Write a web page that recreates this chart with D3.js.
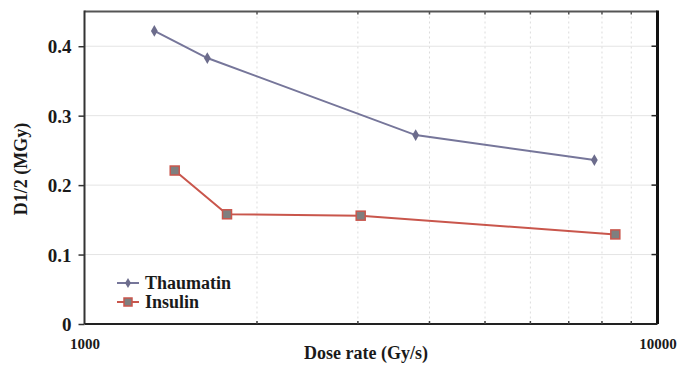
<!DOCTYPE html>
<html>
<head>
<meta charset="utf-8">
<script src="https://cdn.jsdelivr.net/npm/d3@7"></script>
<style>
  body { margin: 0; background: #fff; }
  text { font-family: "Liberation Serif", "Times New Roman", serif; font-weight: bold; fill: #1a1a1a; }
</style>
</head>
<body>
<script>
// values
const thaumatinRate = [1324, 1638, 3784, 7759];
const thaumatinD = [0.422, 0.383, 0.272, 0.236];
const insulinRate = [1437, 1773, 3034, 8441];
const insulinD = [0.221, 0.158, 0.156, 0.129];
const yTicks = [0, 0.1, 0.2, 0.3, 0.4];
const xGrid = [2000, 3000, 4000, 5000, 6000, 7000, 8000, 9000];
const xLabels = [1000, 10000];

const W = 678, H = 365;
const margin = { top: 11.5, right: 20.5, bottom: 41, left: 84.5 };
const width = W - margin.left - margin.right,
  height = H - margin.top - margin.bottom;

const x = d3.scaleLog().domain([1000, 10000]).range([0, width]);
const y = d3.scaleLinear().domain([0, 0.45]).range([height, 0]);

const svg = d3.select("body").append("svg")
  .attr("width", W).attr("height", H);
const g = svg.append("g")
  .attr("transform", "translate(" + margin.left + "," + margin.top + ")");

// grid
g.selectAll(".hg").data(yTicks.filter(d => d > 0)).enter().append("line")
  .attr("x1", 0).attr("x2", width)
  .attr("y1", d => y(d)).attr("y2", d => y(d))
  .attr("stroke", "#e4e4e4").attr("stroke-width", 1);
g.selectAll(".vg").data(xGrid).enter().append("line")
  .attr("x1", d => x(d)).attr("x2", d => x(d))
  .attr("y1", 0).attr("y2", height)
  .attr("stroke", "#dcdcdc").attr("stroke-width", 1)
  .attr("stroke-dasharray", "2,3");

// frame
g.append("line").attr("x1", 0).attr("x2", width).attr("y1", 0).attr("y2", 0)
  .attr("stroke", "#555").attr("stroke-width", 2);
g.append("line").attr("x1", width).attr("x2", width).attr("y1", -1).attr("y2", height)
  .attr("stroke", "#111").attr("stroke-width", 3);
g.append("line").attr("x1", 0).attr("x2", 0).attr("y1", -1).attr("y2", height)
  .attr("stroke", "#333").attr("stroke-width", 2);
g.append("line").attr("x1", 0).attr("x2", width).attr("y1", height).attr("y2", height)
  .attr("stroke", "#222").attr("stroke-width", 2);

// y axis
const yAxis = g.append("g")
  .call(d3.axisLeft(y).tickValues(yTicks).tickSize(6).tickFormat(d => d === 0 ? "0" : d3.format(".1f")(d)));
yAxis.select(".domain").remove();
yAxis.selectAll("line").attr("stroke", "#333").attr("stroke-width", 1.5);
yAxis.selectAll("text").attr("font-size", 19).attr("x", -13).attr("dy", "0.35em").attr("fill", "#1a1a1a");

// right inner ticks
g.selectAll(".rt").data(yTicks.filter(d => d > 0)).enter().append("line")
  .attr("x1", width - 6).attr("x2", width)
  .attr("y1", d => y(d)).attr("y2", d => y(d))
  .attr("stroke", "#222").attr("stroke-width", 1.5);
// top/bottom small ticks
g.selectAll(".tt").data(xGrid).enter().append("line")
  .attr("x1", d => x(d)).attr("x2", d => x(d))
  .attr("y1", 0).attr("y2", 3)
  .attr("stroke", "#555").attr("stroke-width", 1.5);
g.selectAll(".bt").data(xGrid).enter().append("line")
  .attr("x1", d => x(d)).attr("x2", d => x(d))
  .attr("y1", height - 3).attr("y2", height)
  .attr("stroke", "#444").attr("stroke-width", 1.5);

// x labels
const xAxis = g.append("g").attr("transform", "translate(0," + height + ")")
  .call(d3.axisBottom(x).tickValues(xLabels).tickSize(0).tickFormat(d3.format("d")));
xAxis.select(".domain").remove();
xAxis.selectAll("text").attr("font-size", 15).attr("y", 14).attr("dy", "0.71em").attr("fill", "#1a1a1a");

// axis titles
svg.append("text").attr("x", 366).attr("y", 359).attr("text-anchor", "middle")
  .attr("font-size", 18).text("Dose rate (Gy/s)");
svg.append("text").attr("transform", "translate(27,169) rotate(-90)")
  .attr("text-anchor", "middle").attr("font-size", 18).text("D1/2 (MGy)");

// series
const thau = thaumatinRate.map((r, i) => ({ r: r, v: thaumatinD[i] }));
const ins = insulinRate.map((r, i) => ({ r: r, v: insulinD[i] }));
const line = d3.line().x(d => x(d.r)).y(d => y(d.v));
const thauCol = "#76769a", insCol = "#c9564c";

g.append("path").datum(thau).attr("d", line)
  .attr("fill", "none").attr("stroke", thauCol).attr("stroke-width", 2);
g.selectAll(".tm").data(thau).enter().append("path")
  .attr("d", d3.symbol(d3.symbolDiamond, 40))
  .attr("transform", d => "translate(" + x(d.r) + "," + y(d.v) + ")")
  .attr("fill", "#6c6c8c");

g.append("path").datum(ins).attr("d", line)
  .attr("fill", "none").attr("stroke", insCol).attr("stroke-width", 2);
g.selectAll(".im").data(ins).enter().append("rect")
  .attr("x", d => x(d.r) - 4.5).attr("y", d => y(d.v) - 4.5)
  .attr("width", 9).attr("height", 9)
  .attr("fill", "#7f7f7f").attr("stroke", insCol).attr("stroke-width", 1.5);

// legend
const lg = svg.append("g");
lg.append("line").attr("x1", 117).attr("x2", 139).attr("y1", 283).attr("y2", 283)
  .attr("stroke", thauCol).attr("stroke-width", 2);
lg.append("path").attr("d", d3.symbol(d3.symbolDiamond, 30))
  .attr("transform", "translate(128,283)").attr("fill", "#6c6c8c");
lg.append("text").attr("x", 145).attr("y", 283).attr("dy", "0.35em")
  .attr("font-size", 18).text("Thaumatin");
lg.append("line").attr("x1", 117).attr("x2", 139).attr("y1", 302).attr("y2", 302)
  .attr("stroke", insCol).attr("stroke-width", 2);
lg.append("rect").attr("x", 124).attr("y", 298).attr("width", 8).attr("height", 8)
  .attr("fill", "#7f7f7f").attr("stroke", insCol).attr("stroke-width", 1.5);
lg.append("text").attr("x", 145).attr("y", 302).attr("dy", "0.35em")
  .attr("font-size", 18).text("Insulin");
</script>
</body>
</html>
